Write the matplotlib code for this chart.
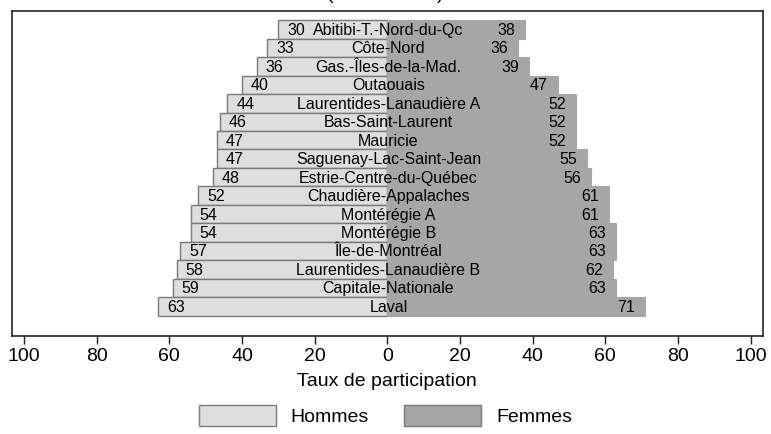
import matplotlib
matplotlib.use("Agg")
import matplotlib.pyplot as plt
from matplotlib.patches import Patch

plt.rcParams['font.family'] = ['Liberation Sans', 'DejaVu Sans']

# regions, top to bottom
regions = ["Abitibi-T.-Nord-du-Qc", "Côte-Nord", "Gas.-Îles-de-la-Mad.", "Outaouais",
           "Laurentides-Lanaudière A", "Bas-Saint-Laurent", "Mauricie",
           "Saguenay-Lac-Saint-Jean", "Estrie-Centre-du-Québec", "Chaudière-Appalaches",
           "Montérégie A", "Montérégie B", "Île-de-Montréal", "Laurentides-Lanaudière B",
           "Capitale-Nationale", "Laval"]
hommes = [30, 33, 36, 40, 44, 46, 47, 47, 48, 52, 54, 54, 57, 58, 59, 63]
femmes = [38, 36, 39, 47, 52, 52, 52, 55, 56, 61, 61, 63, 63, 62, 63, 71]
ticks = [-100, -80, -60, -40, -20, 0, 20, 40, 60, 80, 100]
tick_labels = [str(abs(t)) for t in ticks]

c_h = '#dedede'
c_f = '#a6a6a6'
c_edge = '#7a7a7a'

fig = plt.figure(figsize=(7.71, 4.34), dpi=100)
ax = fig.add_axes([0.0156, 0.2258, 0.9736, 0.7489])

ypos = list(range(len(regions)))
ax.barh(ypos, [-h for h in hommes], height=1.0, color=c_h, edgecolor=c_edge, linewidth=1.0, zorder=2)
ax.barh(ypos, femmes, height=1.0, color=c_f, edgecolor=c_f, linewidth=0.8, zorder=2)

for y, name, h, f in zip(ypos, regions, hommes, femmes):
    ax.text(-h + 2.4, y + 0.05, str(h), ha='left', va='center', fontsize=11.5, zorder=3)
    ax.text(f - 2.8, y + 0.05, str(f), ha='right', va='center', fontsize=11.5, zorder=3)
    ax.text(0.3, y + 0.05, name, ha='center', va='center', fontsize=11.5, zorder=3)

ax.set_xlim(-103.3, 103.3)
ax.set_ylim(16.6, -1.0)
ax.set_yticks([])
ax.set_xticks(ticks)
ax.set_xticklabels(tick_labels, fontsize=14)
ax.tick_params(axis='x', length=5.5, width=1, pad=3, color='#222222')
ax.set_xlabel("Taux de participation", fontsize=14, labelpad=6)
for s in ax.spines.values():
    s.set_linewidth(1.2)
    s.set_color('#222222')

# title sits above the canvas, only the bottom of the parentheses shows
fig.text(0.5, 1.0025, "(année 2018)", ha='center', va='baseline', fontsize=14)

handles = [Patch(facecolor=c_h, edgecolor=c_edge, linewidth=1.0, label='Hommes'),
           Patch(facecolor=c_f, edgecolor=c_edge, linewidth=1.0, label='Femmes')]
fig.legend(handles=handles, loc='center', bbox_to_anchor=(0.5, 0.042), ncol=2,
           frameon=False, fontsize=14, handlelength=3.96, handleheight=1.23,
           handletextpad=0.77, columnspacing=1.8)

fig.savefig("out.png", dpi=100)
